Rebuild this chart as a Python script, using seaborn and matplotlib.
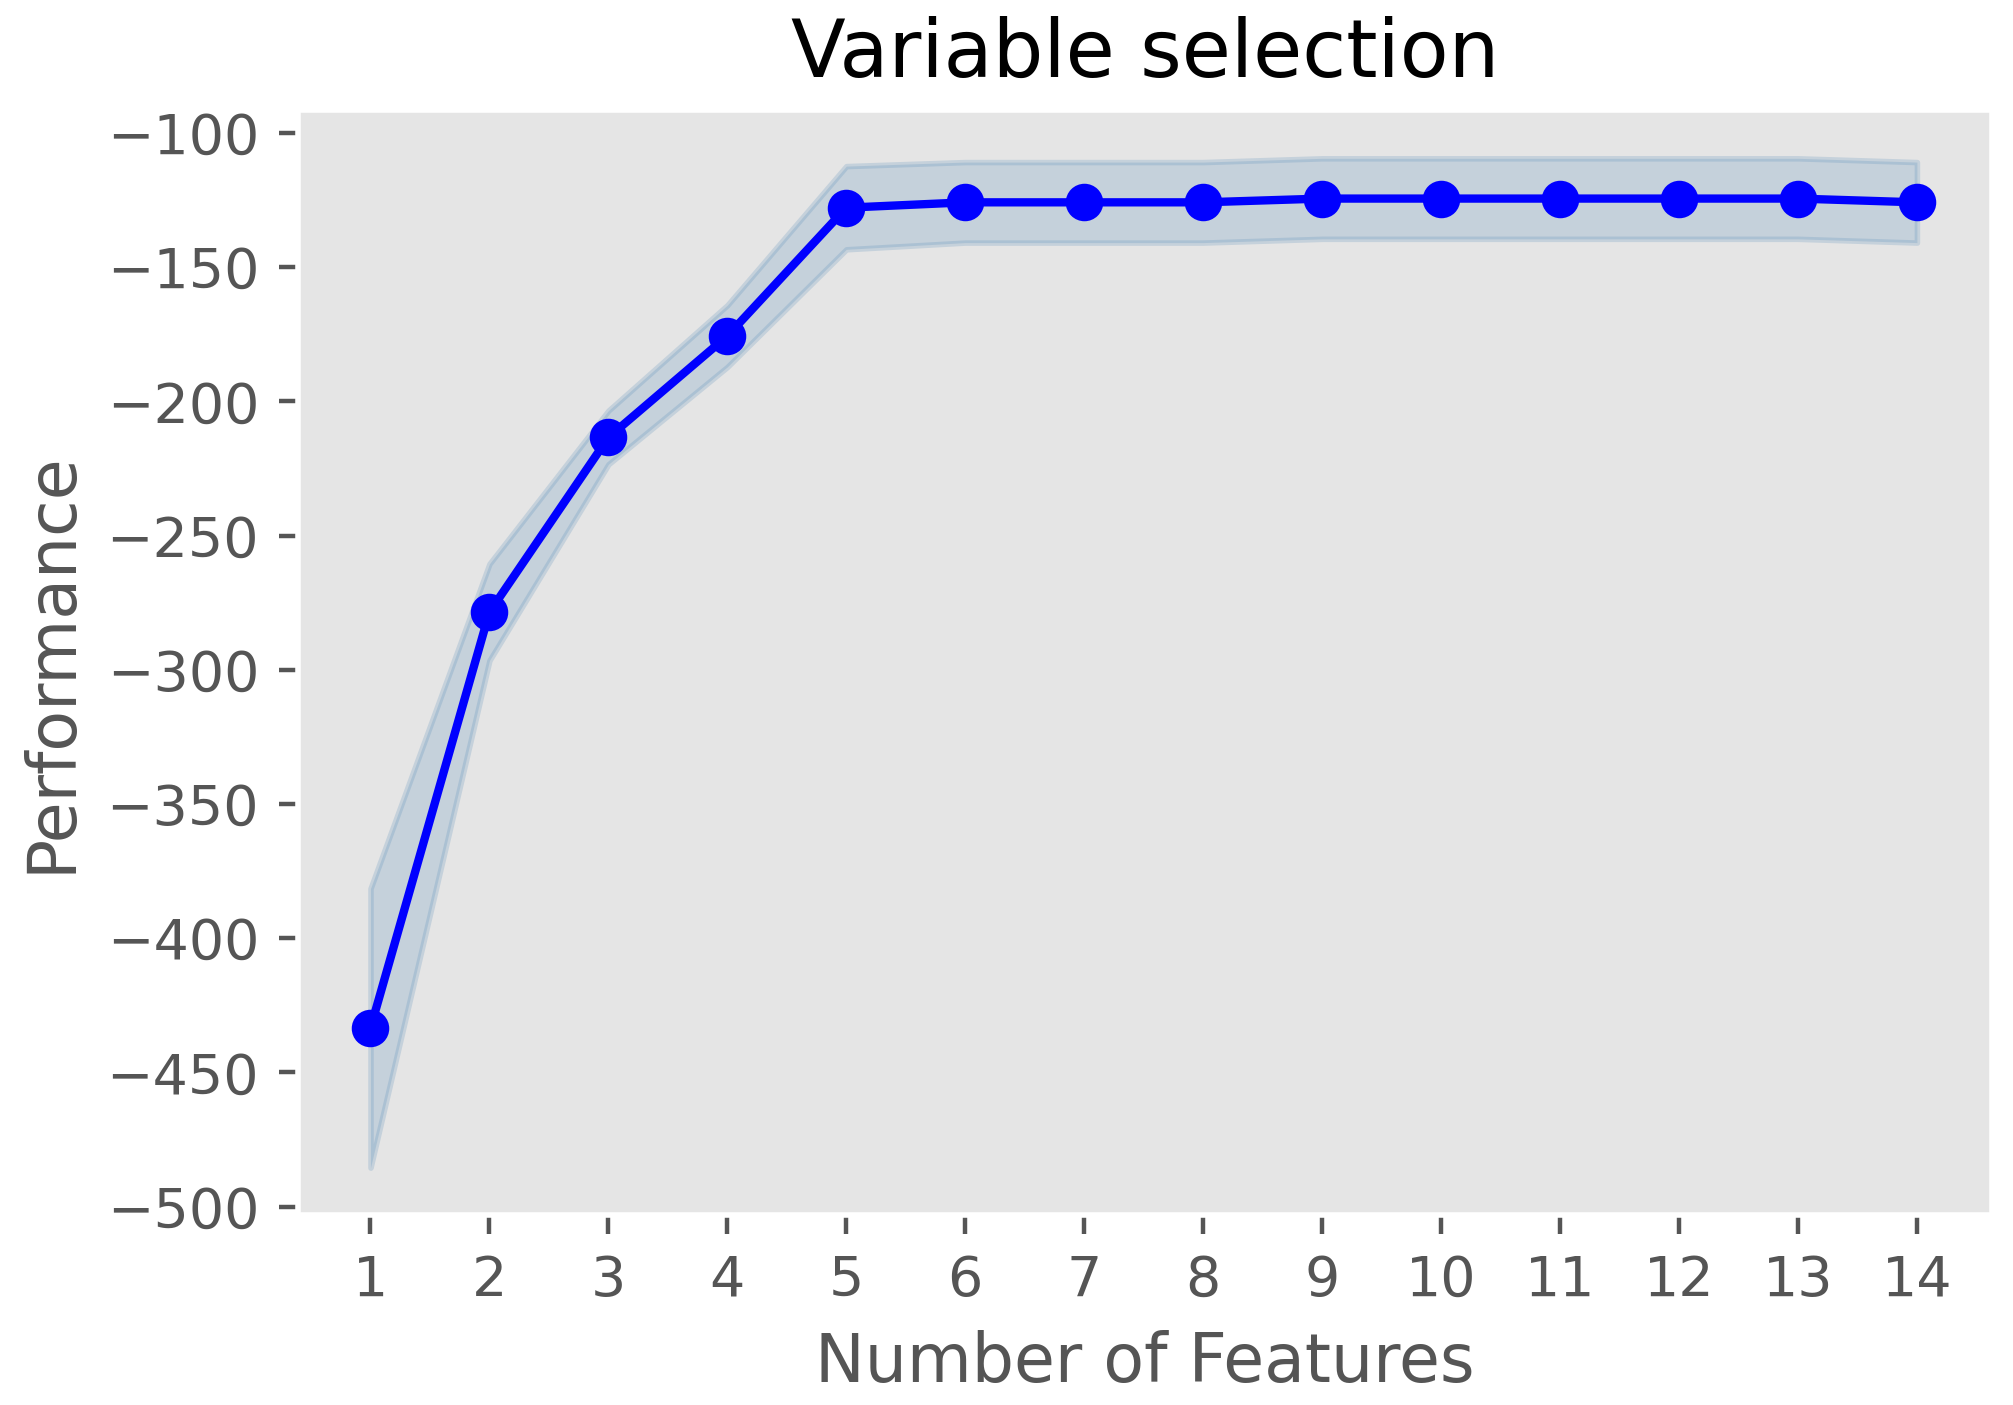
import matplotlib
matplotlib.use('Agg')
import numpy as np
import pandas as pd
import seaborn as sns
import matplotlib.pyplot as plt

# number of features vs CV performance (mean and error band)
n_features = [1, 2, 3, 4, 5, 6, 7, 8, 9, 10, 11, 12, 13, 14]
avg_score = [-433.5, -278.5, -213.4, -175.6, -127.8, -125.8, -125.8,
             -125.8, -124.4, -124.4, -124.4, -124.4, -124.4, -125.8]
score_err = [52.0, 18.0, 10.0, 11.5, 15.5, 15.0, 15.0,
             15.0, 15.0, 15.0, 15.0, 15.0, 15.0, 15.0]

df = pd.DataFrame({'k': n_features, 'avg': avg_score, 'err': score_err})

plt.style.use('ggplot')
plt.rcParams['font.family'] = ['DejaVu Sans']

fig = plt.figure(figsize=(5.0325, 3.5125), dpi=400)
ax = fig.add_axes([0.148, 0.1355, 0.8415, 0.7862])

ax.fill_between(df['k'], df['avg'] + df['err'], df['avg'] - df['err'],
                alpha=0.2, color='steelblue', lw=1)
sns.lineplot(data=df, x='k', y='avg', ax=ax, color='blue', marker='o',
             markersize=6, markeredgecolor='blue', linewidth=1.5)

ax.set_xticks(n_features)
ax.set_xlim(0.39, 14.63)
ax.set_ylim(-503, -91.4)
ax.grid(False)

ax.set_title('Variable selection', fontsize=14.4, color='black')
ax.set_xlabel('Number of Features', fontsize=12, color='#555555')
ax.set_ylabel('Performance', fontsize=12, color='#555555')
ax.tick_params(labelsize=10, colors='#555555')

fig.savefig('out.png', dpi=400)
